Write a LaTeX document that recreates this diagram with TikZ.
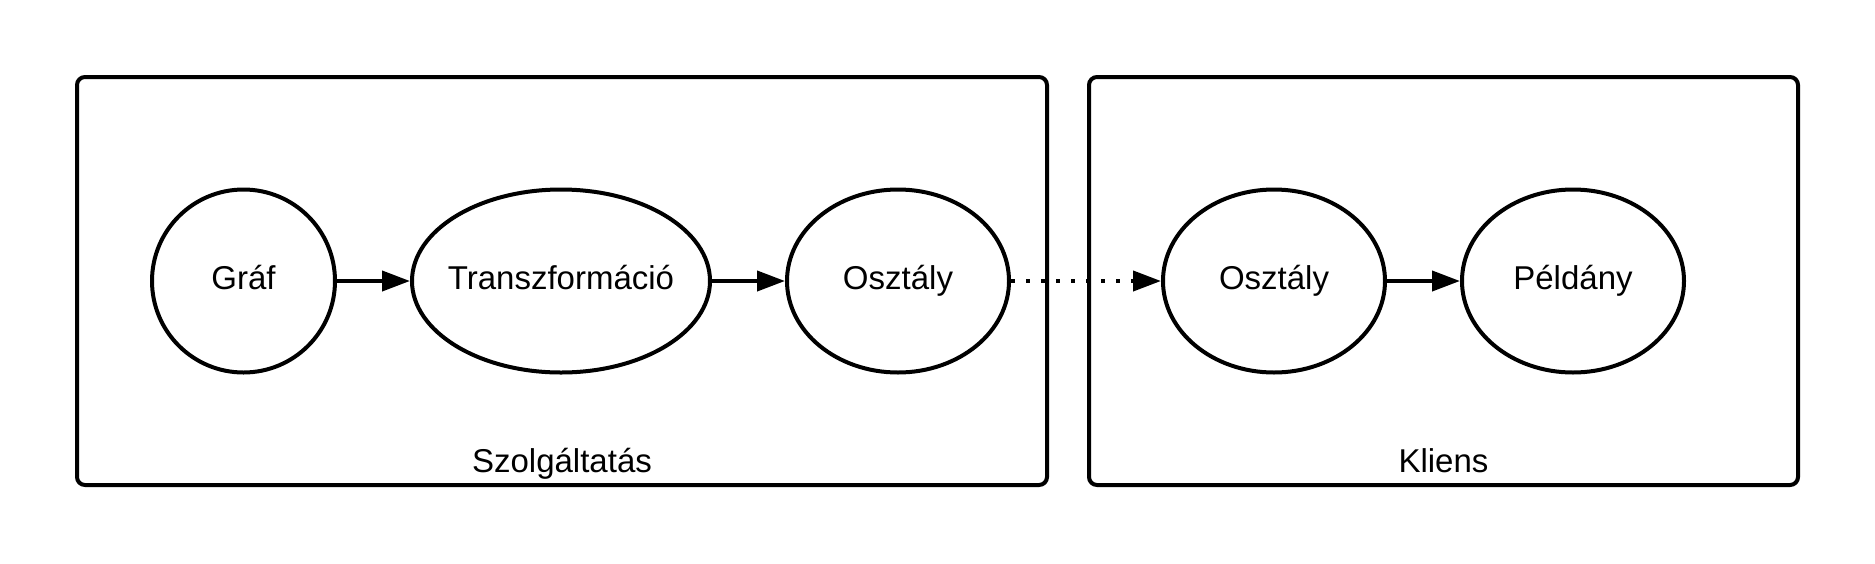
\documentclass[tikz,border=0pt]{standalone}
\usepackage{fontspec}
\setmainfont{Liberation Sans}
\usetikzlibrary{positioning, arrows.meta, shapes.geometric}

\begin{document}
\begin{tikzpicture}[
        x = 0.5pt, y = -0.5pt,
        every node/.style = {font=\fontsize{16.5}{20}\selectfont},
        group/.style = {draw, line width=2pt, rounded corners=4pt, minimum width=485pt, minimum height=204pt, inner sep=0pt},
        caption/.style = {anchor=base, yshift=7.5pt},
        state/.style = {ellipse, draw, line width=2pt, minimum width=111pt, minimum height=91.5pt, inner sep=0pt, inner xsep=-6pt, text height=12pt, text depth=3.5pt},
        flow/.style = {line width=2pt, -{Triangle[length=14pt, width=10pt]}},
        node distance = 36.5pt,
      ]

      \useasboundingbox (0,0) rectangle (1875,563);

      \node[group] (szolg) at (562,281) {};
      \node[group, minimum width=354.5pt] (kliens) at (1443.5,281) {};
      \node[caption] (szolglabel) at (szolg.south) {Szolgáltatás};
      \node[caption] (klienslabel) at (kliens.south) {Kliens};

      \node[state, minimum width=91.5pt] (graf) at (243.5,281) {Gráf};
      \node[state, minimum width=149pt, right=of graf] (transz) {Transzformáció};
      \node[state, right=of transz] (osztaly) {Osztály};
      \node[state, right=75pt of osztaly] (kosztaly) {Osztály};
      \node[state, right=of kosztaly] (peldany) {Példány};

      \draw[flow] (graf) -- (transz);
      \draw[flow] (transz) -- (osztaly);
      \draw[flow, dash pattern=on 2pt off 5.5pt] (osztaly) -- (kosztaly);
      \draw[flow] (kosztaly) -- (peldany);

    \end{tikzpicture}
\end{document}
